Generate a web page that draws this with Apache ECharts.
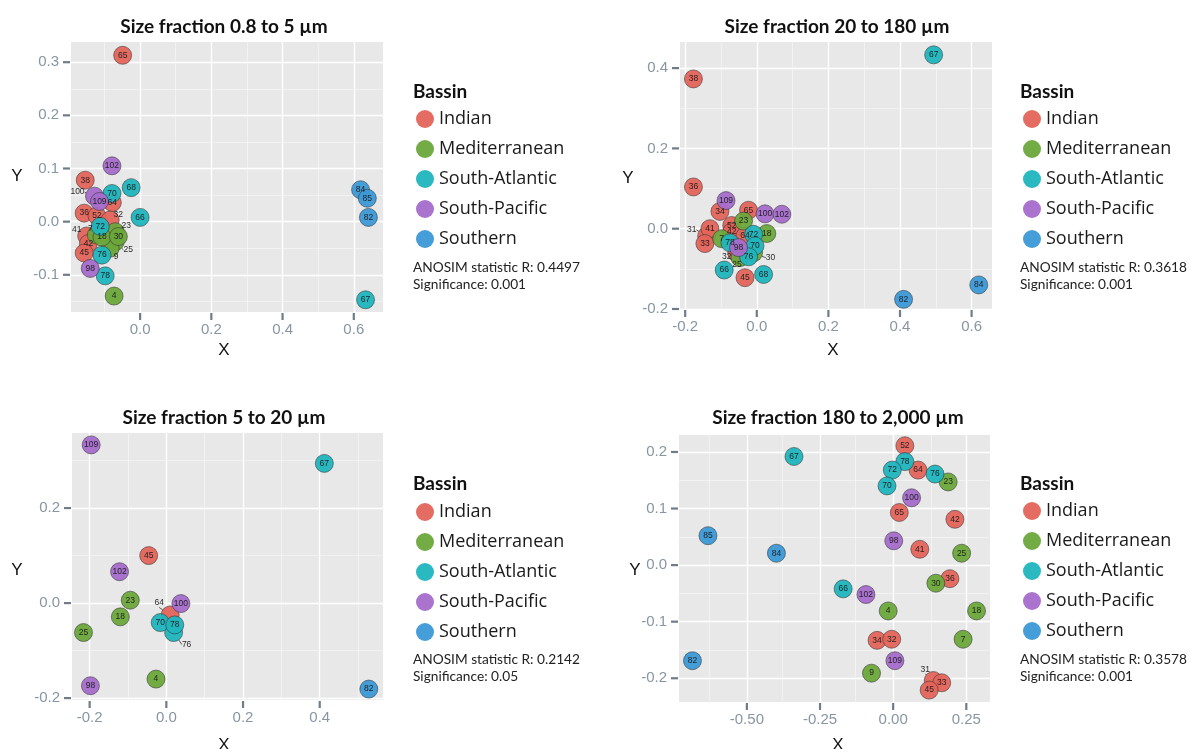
<!DOCTYPE html>
<html><head><meta charset="utf-8">
<script src="https://cdn.jsdelivr.net/npm/echarts@6/dist/echarts.min.js"></script>
<style>html,body{margin:0;padding:0;background:#fff}#c{width:1191px;height:749px}</style>
</head><body><div id="c"></div>
<script>
// ---------- DATA ----------
const TITLES = ['Size fraction 0.8 to 5 µm', 'Size fraction 20 to 180 µm', 'Size fraction 5 to 20 µm', 'Size fraction 180 to 2,000 µm'];
const BASINS = ['Indian', 'Mediterranean', 'South-Atlantic', 'South-Pacific', 'Southern'];
const LEGEND_TITLE = 'Bassin';
const ANOSIM_R = ['0.4497', '0.3618', '0.2142', '0.3578'];
const SIGNIFICANCE = ['0.001', '0.001', '0.05', '0.001'];

const P1_X_TICKS = [0, 0.2, 0.4, 0.6];
const P1_Y_TICKS = [-0.1, 0, 0.1, 0.2, 0.3];
const P2_X_TICKS = [-0.2, 0, 0.2, 0.4, 0.6];
const P2_Y_TICKS = [-0.2, 0, 0.2, 0.4];
const P3_X_TICKS = [-0.2, 0, 0.2, 0.4];
const P3_Y_TICKS = [-0.2, 0, 0.2];
const P4_X_TICKS = [-0.5, -0.25, 0, 0.25];
const P4_Y_TICKS = [-0.2, -0.1, 0, 0.1, 0.2];

// [x, y, station]
const P1_INDIAN = [[-0.049,0.313,'65'],[-0.154,0.078,'38'],[-0.078,0.036,'64'],[-0.157,0.016,'36'],[-0.121,0.011,'52'],[-0.084,0.003,'32'],[-0.150,-0.027,'41'],[-0.145,-0.041,'42'],[-0.157,-0.059,'45']];
const P1_MEDITERRANEAN = [[-0.123,-0.025,'7'],[-0.070,-0.019,'23'],[-0.070,-0.038,'25'],[-0.084,-0.050,'9'],[-0.107,-0.029,'18'],[-0.061,-0.028,'30'],[-0.073,-0.140,'4']];
const P1_SOUTH_ATLANTIC = [[-0.025,0.064,'68'],[-0.079,0.053,'70'],[0.000,0.008,'66'],[-0.112,-0.009,'72'],[-0.107,-0.063,'76'],[-0.098,-0.102,'78'],[0.633,-0.147,'67']];
const P1_SOUTH_PACIFIC = [[-0.079,0.105,'102'],[-0.128,0.048,'100'],[-0.114,0.038,'109'],[-0.140,-0.088,'98']];
const P1_SOUTHERN = [[0.619,0.060,'84'],[0.638,0.044,'85'],[0.641,0.008,'82']];

const P2_INDIAN = [[-0.177,0.373,'38'],[-0.177,0.104,'36'],[-0.103,0.043,'34'],[-0.023,0.046,'65'],[-0.140,-0.018,'31'],[-0.131,0.000,'41'],[-0.145,-0.037,'33'],[-0.070,0.008,'52'],[-0.070,-0.008,'42'],[-0.033,-0.018,'64'],[-0.056,-0.060,'32'],[-0.033,-0.122,'45']];
const P2_MEDITERRANEAN = [[-0.047,-0.072,'25'],[-0.009,-0.060,'30'],[-0.037,0.019,'23'],[-0.098,-0.025,'7'],[0.028,-0.012,'18']];
const P2_SOUTH_ATLANTIC = [[0.494,0.433,'67'],[-0.075,-0.035,'78'],[-0.009,-0.014,'72'],[-0.005,-0.043,'70'],[-0.023,-0.070,'76'],[-0.091,-0.103,'66'],[0.019,-0.114,'68']];
const P2_SOUTH_PACIFIC = [[-0.086,0.070,'109'],[0.023,0.037,'100'],[0.070,0.036,'102'],[-0.051,-0.047,'98']];
const P2_SOUTHERN = [[0.410,-0.176,'82'],[0.620,-0.140,'84']];

const P3_INDIAN = [[-0.046,0.100,'45'],[0.010,-0.025,'64']];
const P3_MEDITERRANEAN = [[-0.094,0.006,'23'],[-0.120,-0.029,'18'],[-0.216,-0.062,'25'],[-0.027,-0.160,'4']];
const P3_SOUTH_ATLANTIC = [[0.412,0.294,'67'],[0.019,-0.062,'76'],[-0.016,-0.041,'70'],[0.022,-0.046,'78']];
const P3_SOUTH_PACIFIC = [[-0.196,0.333,'109'],[-0.122,0.066,'102'],[0.038,-0.001,'100'],[-0.198,-0.174,'98']];
const P3_SOUTHERN = [[0.528,-0.181,'82']];

const P4_INDIAN = [[0.040,0.211,'52'],[0.085,0.168,'64'],[0.021,0.093,'65'],[0.211,0.081,'42'],[0.091,0.028,'41'],[0.194,-0.024,'36'],[-0.055,-0.133,'34'],[-0.005,-0.131,'32'],[0.137,-0.204,'31'],[0.166,-0.208,'33'],[0.123,-0.221,'45']];
const P4_MEDITERRANEAN = [[0.188,0.147,'23'],[0.234,0.021,'25'],[0.146,-0.032,'30'],[-0.017,-0.081,'4'],[0.285,-0.081,'18'],[0.239,-0.131,'7'],[-0.074,-0.191,'9']];
const P4_SOUTH_ATLANTIC = [[-0.339,0.192,'67'],[0.040,0.183,'78'],[-0.003,0.168,'72'],[0.143,0.161,'76'],[-0.021,0.140,'70'],[-0.171,-0.042,'66']];
const P4_SOUTH_PACIFIC = [[0.063,0.119,'100'],[0.002,0.043,'98'],[-0.093,-0.052,'102'],[0.006,-0.169,'109']];
const P4_SOUTHERN = [[-0.633,0.052,'85'],[-0.399,0.021,'84'],[-0.686,-0.169,'82']];

// ---------- STYLE / LAYOUT ----------
const COLORS = {'Indian':'#E4645A','Mediterranean':'#6BA63A','South-Atlantic':'#1FB5BE','South-Pacific':'#A56BCB','Southern':'#3C99D7'};
const PANELS = [
  {data:[P1_INDIAN,P1_MEDITERRANEAN,P1_SOUTH_ATLANTIC,P1_SOUTH_PACIFIC,P1_SOUTHERN], xt:P1_X_TICKS, yt:P1_Y_TICKS, xd:1, yd:1,
   grid:{left:71,top:42,width:312,height:270}, x:[-0.194,0.682], y:[-0.170,0.338],
   legend:[416,110], bassin:[413,92], stats:[413,268], title:[224,27], xName:[224,350], yName:[17,176]},
  {data:[P2_INDIAN,P2_MEDITERRANEAN,P2_SOUTH_ATLANTIC,P2_SOUTH_PACIFIC,P2_SOUTHERN], xt:P2_X_TICKS, yt:P2_Y_TICKS, xd:1, yd:1,
   grid:{left:680,top:42,width:312,height:267}, x:[-0.2145,0.657], y:[-0.2,0.465],
   legend:[1023,110], bassin:[1020,92], stats:[1020,268], title:[837,27], xName:[833,350], yName:[628,178]},
  {data:[P3_INDIAN,P3_MEDITERRANEAN,P3_SOUTH_ATLANTIC,P3_SOUTH_PACIFIC,P3_SOUTHERN], xt:P3_X_TICKS, yt:P3_Y_TICKS, xd:1, yd:1,
   grid:{left:72,top:433,width:311,height:267}, x:[-0.246,0.565], y:[-0.204,0.358],
   legend:[416,503], bassin:[413,484], stats:[413,660], title:[224,418], xName:[224,745], yName:[17,570]},
  {data:[P4_INDIAN,P4_MEDITERRANEAN,P4_SOUTH_ATLANTIC,P4_SOUTH_PACIFIC,P4_SOUTHERN], xt:P4_X_TICKS, yt:P4_Y_TICKS, xd:2, yd:1,
   grid:{left:679,top:435,width:311,height:267}, x:[-0.732,0.331], y:[-0.242,0.230],
   legend:[1023,502], bassin:[1020,484], stats:[1020,660], title:[838,418], xName:[838,745], yName:[635,570]}
];
// pixel offsets of repelled labels
const LABEL_SHIFT = [
  {'100':[-17,-4],'32':[8,-5],'23':[11,-6],'7':[-6,-6],'41':[-10,-6],'25':[13,8],'9':[6,8]},
  {'31':[-15,-6],'32':[-10,4],'25':[-3,7],'30':[17,5]},
  {'64':[-11,-12],'76':[13,12]},
  {'31':[-8,-11]}
];
const TICK_COLOR = '#6f7d8a';
const TICK_LEN = 7;
const FONT = '"Open Sans", Lato, sans-serif';
const SANS = '"Liberation Sans", Arial, sans-serif';

function minorOf(ticks, range) {
  const step = ticks[1] - ticks[0];
  const out = [];
  for (let v = ticks[0] - step / 2; v <= range[1] + 1e-9; v += step) {
    if (v >= range[0] - 1e-9) out.push(+v.toFixed(4));
  }
  return out;
}

const xAxes = [], yAxes = [], grids = [], series = [], legends = [], graphics = [], seriesPanel = [];
PANELS.forEach((p, i) => {
  grids.push(Object.assign({show:true, backgroundColor:'#E8E8E8', borderWidth:0}, p.grid));
  const mk = (dim, ticks, range, dec) => ({
    type:'value', gridIndex:i, min:range[0], max:range[1], scale:true,
    position: dim === 'x' ? 'bottom' : 'left',
    axisLine:{show:false, onZero:false},
    axisTick:{show:false},
    axisLabel:{customValues:ticks, formatter:v => (+v).toFixed(dec), color:'#8796a2', fontSize:15,
      fontFamily:SANS, margin: dim === 'x' ? 10 : 12},
    splitLine:{show:false}, minorSplitLine:{show:false}
  });
  xAxes.push(mk('x', p.xt, p.x, p.xd));
  yAxes.push(mk('y', p.yt, p.y, p.yd));

  // grid lines drawn on the panel through the axes' own scales
  const MAJOR = {color:'#ffffff', width:1.4, type:'solid'};
  const MINOR = {color:'rgba(255,255,255,0.65)', width:0.7, type:'solid'};
  const lines = [];
  minorOf(p.xt, p.x).forEach(v => lines.push({xAxis:v, lineStyle:MINOR}));
  minorOf(p.yt, p.y).forEach(v => lines.push({yAxis:v, lineStyle:MINOR}));
  p.xt.forEach(v => lines.push({xAxis:v, lineStyle:MAJOR}));
  p.yt.forEach(v => lines.push({yAxis:v, lineStyle:MAJOR}));
  seriesPanel.push(i);
  series.push({
    type:'scatter', name:'_grid' + i, xAxisIndex:i, yAxisIndex:i, data:[], z:1, silent:true,
    markLine:{z:1, silent:true, symbol:['none','none'], label:{show:false}, animation:false,
      emphasis:{disabled:true}, data:lines}
  });

  BASINS.forEach((b, k) => {
    const shift = LABEL_SHIFT[i];
    seriesPanel.push(i);
    series.push({
      type:'scatter', name:b, xAxisIndex:i, yAxisIndex:i, z:6,
      symbol:'circle', symbolSize:18,
      itemStyle:{color:COLORS[b], borderColor:'rgba(50,50,50,0.65)', borderWidth:0.9, opacity:0.95},
      label:{show:true, position:'inside', formatter:q => q.name, fontSize:8.5,
        fontFamily:SANS, color:'#1b1b1b'},
      labelLine:{show:false, lineStyle:{color:'#333', width:0.8}},
      labelLayout: params => {
        const s = LABEL_SHIFT[seriesPanel[params.seriesIndex]];
        const item = series[params.seriesIndex].data[params.dataIndex];
        const off = item && s[item.name];
        return off ? {dx:off[0], dy:off[1]} : {};
      },
      emphasis:{disabled:true},
      data: p.data[k].map(d => ({name:d[2], value:[d[0], d[1]], labelLine:{show: !!shift[d[2]]}}))
    });
  });

  legends.push({
    show:true, orient:'vertical', left:p.legend[0], top:p.legend[1], data:BASINS, padding:0,
    icon:'circle', itemWidth:18, itemHeight:18, itemGap:12, selectedMode:false,
    itemStyle:{borderWidth:0},
    textStyle:{fontSize:18, lineHeight:18, fontFamily:FONT, color:'#1a1a1a'}
  });

  const txt = (t, x, y, font, align, color) => ({type:'text', x:x, y:y, silent:true, z:10,
    style:{text:t, font:font, fill:color || '#111', textAlign:align, textVerticalAlign:'middle', align:align, verticalAlign:'middle'}});
  graphics.push(txt(TITLES[i], p.title[0], p.title[1], 'bold 19px Lato, sans-serif', 'center'));
  graphics.push(txt(LEGEND_TITLE, p.bassin[0], p.bassin[1], 'bold 19px Lato, sans-serif', 'left'));
  graphics.push(txt('ANOSIM statistic R: ' + ANOSIM_R[i], p.stats[0], p.stats[1], '13.7px Lato, sans-serif', 'left', '#222'));
  graphics.push(txt('Significance: ' + SIGNIFICANCE[i], p.stats[0], p.stats[1] + 17, '13.7px Lato, sans-serif', 'left', '#222'));
  graphics.push(txt('X', p.xName[0], p.xName[1], '17px ' + SANS, 'center'));
  graphics.push(txt('Y', p.yName[0], p.yName[1], '17px ' + SANS, 'center'));
});

const chart = echarts.init(document.getElementById('c'), null, {renderer:'canvas'});
chart.setOption({
  backgroundColor:'#ffffff',
  animation:false,
  grid:grids, xAxis:xAxes, yAxis:yAxes, series:series, legend:legends,
  graphic:{elements:graphics}
});

// axis tick marks placed through the axes' scales (convertToPixel)
const tickEls = [];
PANELS.forEach((p, i) => {
  const g = p.grid, bottom = g.top + g.height;
  const mk = (x, y, w, h) => ({type:'rect', silent:true, z:20, zlevel:0,
    shape:{x:x, y:y, width:w, height:h}, style:{fill:TICK_COLOR, stroke:null}});
  p.xt.forEach(v => {
    let px = chart.convertToPixel({xAxisIndex:i}, v);
    if (!isFinite(px)) px = g.left + (v - p.x[0]) / (p.x[1] - p.x[0]) * g.width;
    tickEls.push(mk(px - 1.1, bottom + 1, 2.2, TICK_LEN));
  });
  p.yt.forEach(v => {
    let py = chart.convertToPixel({yAxisIndex:i}, v);
    if (!isFinite(py)) py = bottom - (v - p.y[0]) / (p.y[1] - p.y[0]) * g.height;
    tickEls.push(mk(g.left - TICK_LEN - 1, py - 1.1, TICK_LEN, 2.2));
  });
});
chart.setOption({graphic:{elements:graphics.concat(tickEls)}});
</script></body></html>
